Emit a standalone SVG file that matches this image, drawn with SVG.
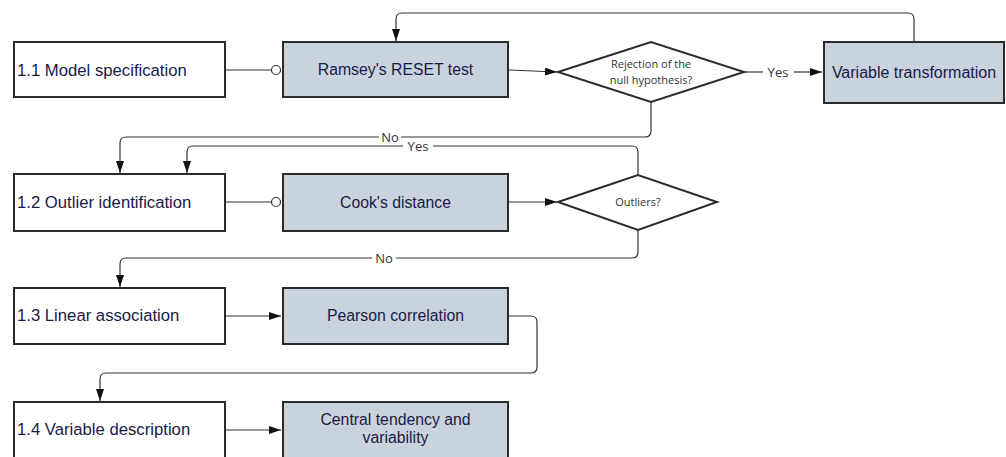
<svg xmlns="http://www.w3.org/2000/svg" width="1006" height="457" viewBox="0 0 1006 457">
  <defs>
    <style>
      .step { fill: #ffffff; stroke: #2b2b2b; stroke-width: 2; }
      .method { fill: #c9d3dd; stroke: #2b2b2b; stroke-width: 2; }
      .decision { fill: #ffffff; stroke: #2b2b2b; stroke-width: 2; }
      .label-step { font-family: "Liberation Sans", Arial, sans-serif; font-size: 16.7px; fill: #1a1a48; }
      .label-method { font-family: "Liberation Sans", Arial, sans-serif; font-size: 15.8px; fill: #1a1a48; text-anchor: middle; }
      .label-decision { font-family: "Open Sans", "Noto Sans", sans-serif; font-size: 11px; fill: #333333; text-anchor: middle; }
      .edge { fill: none; stroke: #333333; stroke-width: 1.2; }
      .edge-label { font-family: "Open Sans", "Noto Sans", sans-serif; font-size: 13px; fill: #333333; text-anchor: middle; }
      .ring { fill: #ffffff; stroke: #333333; stroke-width: 1.2; }
    </style>
    <marker id="arrow" viewBox="0 0 12 8" refX="12" refY="4" markerWidth="12" markerHeight="8" markerUnits="userSpaceOnUse" orient="auto">
      <path d="M0,0 L12,4 L0,8 Z" fill="#111111"/>
    </marker>
  </defs>

  <!-- Connectors -->
  <g id="connectors">
    <!-- 1.1 -> Ramsey (circle end) -->
    <path class="edge" d="M226,70 H272"/>
    <circle class="ring" cx="276" cy="70" r="4.5"/>
    <!-- Ramsey -> decision -->
    <path class="edge" d="M509,70 L557,72" marker-end="url(#arrow)"/>
    <!-- decision -> Variable transformation (Yes) -->
    <path class="edge" d="M744,72 H763"/>
    <text class="edge-label" x="778" y="76.5">Yes</text>
    <path class="edge" d="M794,72 H822" marker-end="url(#arrow)"/>
    <!-- Variable transformation -> Ramsey (loop over top) -->
    <path class="edge" d="M914,41 V19 Q914,13 908,13 H402 Q396,13 396,19 V41" marker-end="url(#arrow)"/>
    <!-- decision -> 1.2 (No) -->
    <path class="edge" d="M651,102 V131 Q651,137 645,137 H126 Q120,137 120,143 V173" marker-end="url(#arrow)"/>
    <rect x="379" y="130" width="22" height="12" fill="#ffffff"/>
    <text class="edge-label" x="390" y="141.5">No</text>

    <!-- 1.2 -> Cook's (circle end) -->
    <path class="edge" d="M226,202 H272"/>
    <circle class="ring" cx="276" cy="202" r="4.5"/>
    <!-- Cook's -> Outliers? -->
    <path class="edge" d="M509,202 H557" marker-end="url(#arrow)"/>
    <!-- Outliers? -> 1.2 (Yes) -->
    <path class="edge" d="M638,175 V152 Q638,146 632,146 H193 Q187,146 187,152 V173" marker-end="url(#arrow)"/>
    <rect x="403" y="140" width="30" height="13" fill="#ffffff"/>
    <text class="edge-label" x="418" y="150.5">Yes</text>
    <!-- Outliers? -> 1.3 (No) -->
    <path class="edge" d="M638,230 V252 Q638,258 632,258 H126 Q120,258 120,264 V287" marker-end="url(#arrow)"/>
    <rect x="372" y="251" width="24" height="13" fill="#ffffff"/>
    <text class="edge-label" x="384" y="262.5">No</text>

    <!-- 1.3 -> Pearson -->
    <path class="edge" d="M226,316 H281" marker-end="url(#arrow)"/>
    <!-- Pearson -> 1.4 -->
    <path class="edge" d="M509,316 H531 Q537,316 537,322 V367 Q537,373 531,373 H106 Q100,373 100,379 V401" marker-end="url(#arrow)"/>
    <!-- 1.4 -> Central tendency -->
    <path class="edge" d="M226,430 H281" marker-end="url(#arrow)"/>
  </g>

  <!-- Row 1 -->
  <g id="model-specification">
    <rect class="step" x="14" y="42" width="211" height="55"/>
    <text class="label-step" x="17" y="75.5">1.1 Model specification</text>
  </g>
  <g id="ramsey-reset">
    <rect class="method" x="283" y="42" width="225" height="55"/>
    <text class="label-method" x="395.5" y="75">Ramsey's RESET test</text>
  </g>
  <g id="null-rejection">
    <polygon class="decision" points="558,72 651,42 744,72 651,102"/>
    <text class="label-decision" x="651" y="68">Rejection of the</text>
    <text class="label-decision" x="651" y="84">null hypothesis?</text>
  </g>
  <g id="variable-transformation">
    <rect class="method" x="824" y="42" width="180" height="61"/>
    <text class="label-method" x="914" y="78" style="font-size:16px">Variable transformation</text>
  </g>

  <!-- Row 2 -->
  <g id="outlier-identification">
    <rect class="step" x="14" y="174" width="211" height="57"/>
    <text class="label-step" x="17" y="208">1.2 Outlier identification</text>
  </g>
  <g id="cooks-distance">
    <rect class="method" x="283" y="174" width="225" height="57"/>
    <text class="label-method" x="395.5" y="208">Cook's distance</text>
  </g>
  <g id="outliers">
    <polygon class="decision" points="558,202 638,175 717,202 638,230"/>
    <text class="label-decision" x="638" y="206">Outliers?</text>
  </g>

  <!-- Row 3 -->
  <g id="linear-association">
    <rect class="step" x="14" y="288" width="211" height="56"/>
    <text class="label-step" x="17" y="321">1.3 Linear association</text>
  </g>
  <g id="pearson-correlation">
    <rect class="method" x="283" y="288" width="225" height="56"/>
    <text class="label-method" x="395.5" y="321">Pearson correlation</text>
  </g>

  <!-- Row 4 -->
  <g id="variable-description">
    <rect class="step" x="14" y="402" width="211" height="60"/>
    <text class="label-step" x="17" y="435">1.4 Variable description</text>
  </g>
  <g id="central-tendency">
    <rect class="method" x="283" y="402" width="225" height="60"/>
    <text class="label-method" x="395.5" y="425">Central tendency and</text>
    <text class="label-method" x="395.5" y="443">variability</text>
  </g>
</svg>
